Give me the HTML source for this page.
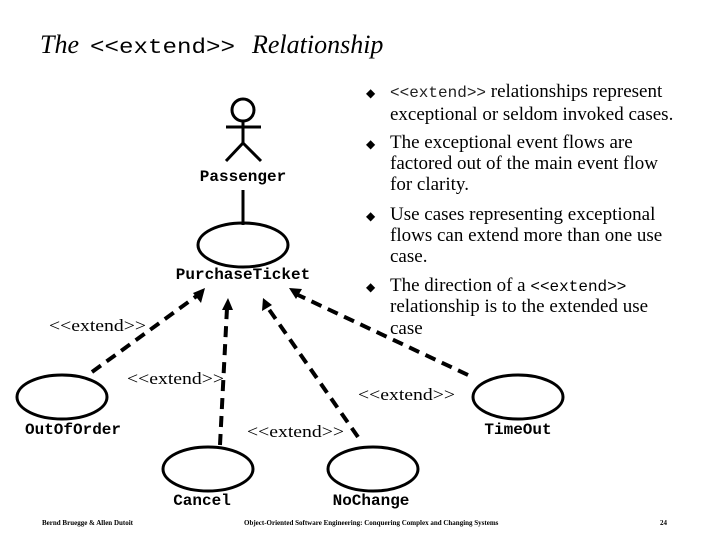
<!DOCTYPE html>
<html><head><meta charset="utf-8"><style>
body{margin:0;background:#fff}
svg{display:block}
.s{font-family:"Liberation Serif",serif}
.m{font-family:"Liberation Mono",monospace}
</style></head><body>
<svg width="720" height="540" viewBox="0 0 720 540">
<text x="40" y="53" class="s" font-size="26" font-style="italic">The</text>
<text x="90" y="53" class="m" font-size="21" textLength="145" lengthAdjust="spacingAndGlyphs">&lt;&lt;extend&gt;&gt;</text>
<text x="252" y="53" class="s" font-size="26" font-style="italic">Relationship</text>
<g stroke="#000" stroke-width="3" fill="none">
<circle cx="243" cy="110" r="11"/>
<line x1="243" y1="121" x2="243" y2="143"/>
<line x1="226" y1="127" x2="261" y2="127"/>
<line x1="243" y1="143" x2="226" y2="161"/>
<line x1="243" y1="143" x2="261" y2="161"/>
<line x1="243" y1="190" x2="243" y2="225"/>
<ellipse cx="243" cy="245" rx="45" ry="22"/>
<ellipse cx="62" cy="397" rx="45" ry="22"/>
<ellipse cx="208" cy="469" rx="45" ry="22"/>
<ellipse cx="373" cy="469" rx="45" ry="22"/>
<ellipse cx="518" cy="397" rx="45" ry="22"/>
<g stroke-width="4" stroke-dasharray="11,7">
<line x1="92" y1="372" x2="198" y2="295"/>
<line x1="220" y1="445" x2="227" y2="308"/>
<line x1="358" y1="437" x2="268" y2="308"/>
<line x1="468" y1="375" x2="298" y2="295"/>
</g>
</g>
<g fill="#000">
<polygon points="205,288 193,293 201,303"/>
<polygon points="228,298 222,310 233,310"/>
<polygon points="263,298 262,311 272,305"/>
<polygon points="289,288 296,299 302,289"/>
</g>
<g class="m" font-size="16" font-weight="bold" text-anchor="middle">
<text x="243" y="181">Passenger</text>
<text x="243" y="279">PurchaseTicket</text>
<text x="73" y="434">OutOfOrder</text>
<text x="202" y="505">Cancel</text>
<text x="371" y="505">NoChange</text>
<text x="518" y="434">TimeOut</text>
</g>
<g class="s" font-size="17">
<text x="49" y="331" textLength="97" lengthAdjust="spacingAndGlyphs">&lt;&lt;extend&gt;&gt;</text>
<text x="127" y="384" textLength="97" lengthAdjust="spacingAndGlyphs">&lt;&lt;extend&gt;&gt;</text>
<text x="358" y="400" textLength="97" lengthAdjust="spacingAndGlyphs">&lt;&lt;extend&gt;&gt;</text>
<text x="247" y="437" textLength="97" lengthAdjust="spacingAndGlyphs">&lt;&lt;extend&gt;&gt;</text>
</g>
<g class="s" font-size="19">
<text x="366" y="97" font-size="12">◆</text>
<text x="390" y="97"><tspan class="m" font-size="16" fill="#222">&lt;&lt;extend&gt;&gt;</tspan> relationships represent</text>
<text x="390" y="120">exceptional or seldom invoked cases.</text>
<text x="366" y="148" font-size="12">◆</text>
<text x="390" y="148">The exceptional event flows are</text>
<text x="390" y="169">factored out of the main event flow</text>
<text x="390" y="190">for clarity.</text>
<text x="366" y="220" font-size="12">◆</text>
<text x="390" y="220">Use cases representing exceptional</text>
<text x="390" y="241">flows can extend more than one use</text>
<text x="390" y="262">case.</text>
<text x="366" y="291" font-size="12">◆</text>
<text x="390" y="291">The direction of a <tspan class="m" font-size="16">&lt;&lt;extend&gt;&gt;</tspan></text>
<text x="390" y="312">relationship is to the extended use</text>
<text x="390" y="334">case</text>
</g>
<g class="s" font-size="7" font-weight="bold">
<text x="42" y="525">Bernd Bruegge &amp; Allen Dutoit</text>
<text x="244" y="525">Object-Oriented Software Engineering: Conquering Complex and Changing Systems</text>
<text x="660" y="525">24</text>
</g>
</svg>
</body></html>
